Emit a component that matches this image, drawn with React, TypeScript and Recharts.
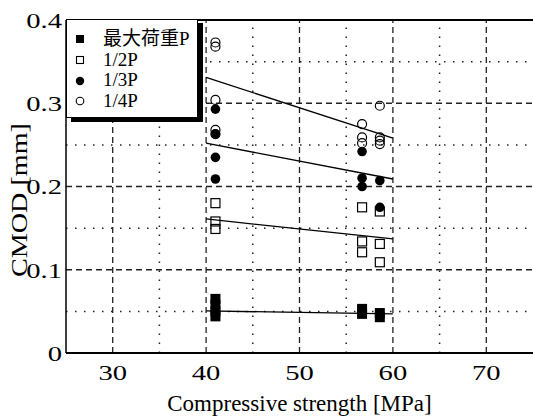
import {
  ComposedChart,
  Scatter,
  XAxis,
  YAxis,
  ReferenceLine,
  Label,
} from "recharts";

const FONT = "'Liberation Serif', 'Times New Roman', 'Noto Sans CJK JP', serif";

const xTicks = [30, 40, 50, 60, 70];
const xMinorGrid = [35, 45, 55, 65];
const yTicks = [0, 0.1, 0.2, 0.3, 0.4];
const yMajorGrid = [0.1, 0.2, 0.3];
const yMinorGrid = [0.05, 0.15, 0.25, 0.35];

const seriesNames = ["最大荷重P", "1/2P", "1/3P", "1/4P"];

// measured points (compressive strength, CMOD)
const maxP = [
  { x: 41, y: 0.065 },
  { x: 41, y: 0.058 },
  { x: 41, y: 0.05 },
  { x: 41, y: 0.044 },
  { x: 56.7, y: 0.053 },
  { x: 56.7, y: 0.047 },
  { x: 58.6, y: 0.048 },
  { x: 58.6, y: 0.043 },
];
const halfP = [
  { x: 41, y: 0.18 },
  { x: 41, y: 0.158 },
  { x: 41, y: 0.149 },
  { x: 56.7, y: 0.175 },
  { x: 56.7, y: 0.134 },
  { x: 56.7, y: 0.121 },
  { x: 58.6, y: 0.17 },
  { x: 58.6, y: 0.131 },
  { x: 58.6, y: 0.109 },
];
const thirdP = [
  { x: 41, y: 0.293 },
  { x: 41, y: 0.263 },
  { x: 41, y: 0.235 },
  { x: 41, y: 0.209 },
  { x: 56.7, y: 0.242 },
  { x: 56.7, y: 0.21 },
  { x: 56.7, y: 0.2 },
  { x: 58.6, y: 0.207 },
  { x: 58.6, y: 0.175 },
];
const quarterP = [
  { x: 41, y: 0.373 },
  { x: 41, y: 0.368 },
  { x: 41, y: 0.304 },
  { x: 41, y: 0.268 },
  { x: 41, y: 0.263 },
  { x: 56.7, y: 0.275 },
  { x: 56.7, y: 0.259 },
  { x: 56.7, y: 0.252 },
  { x: 58.6, y: 0.297 },
  { x: 58.6, y: 0.259 },
  { x: 58.6, y: 0.255 },
  { x: 58.6, y: 0.251 },
];

// regression lines, 40 -> 60 MPa
const fitMax = [
  { x: 40, y: 0.0505 },
  { x: 60, y: 0.047 },
];
const fitHalf = [
  { x: 40, y: 0.161 },
  { x: 60, y: 0.137 },
];
const fitThird = [
  { x: 40, y: 0.252 },
  { x: 60, y: 0.209 },
];
const fitQuarter = [
  { x: 40, y: 0.331 },
  { x: 60, y: 0.258 },
];

const filledSquare = (p: any) => (
  <rect x={p.cx - 5} y={p.cy - 5} width={10} height={10} fill="#000" />
);
const openSquare = (p: any) => (
  <rect x={p.cx - 4.5} y={p.cy - 4.5} width={9} height={9} fill="none" stroke="#000" strokeWidth={1.2} />
);
const filledCircle = (p: any) => <circle cx={p.cx} cy={p.cy} r={4.8} fill="#000" />;
const openCircle = (p: any) => (
  <circle cx={p.cx} cy={p.cy} r={4.5} fill="none" stroke="#000" strokeWidth={1.2} />
);
const noDot = () => <g />;

// tick text looks horizontally stretched in the original
const NumTick = (props: any) => {
  const { x, y, payload, textAnchor, dy } = props;
  const label = String(payload.value);
  const w = label.split("").reduce((s, c) => s + (c === "." ? 0.25 : 0.5), 0) * 22 * 1.3;
  return (
    <text
      x={x}
      y={y}
      dy={dy}
      textAnchor={textAnchor}
      fontSize={22}
      fontFamily={FONT}
      fill="#000"
      textLength={w}
      lengthAdjust="spacingAndGlyphs"
    >
      {label}
    </text>
  );
};

const legendMarks = [
  <rect x={1} y={1} width={8} height={8} fill="#000" />,
  <rect x={1.5} y={1.5} width={7} height={7} fill="none" stroke="#000" strokeWidth={1.1} />,
  <circle cx={5} cy={5} r={4.2} fill="#000" />,
  <circle cx={5} cy={5} r={3.8} fill="none" stroke="#000" strokeWidth={1.1} />,
];

const LegendBox = () => (
  <div
    style={{
      position: "absolute",
      left: 66,
      top: 19,
      width: 132,
      height: 99,
      boxSizing: "border-box",
      background: "#fff",
      border: "1px solid #000",
      boxShadow: "5px 4px 0 #000",
      fontFamily: FONT,
      fontSize: 19,
      lineHeight: "20.7px",
      paddingTop: 9,
      whiteSpace: "nowrap",
    }}
  >
    {seriesNames.map((name, i) => (
      <div key={name} style={{ display: "flex", alignItems: "center", height: 20.7 }}>
        <svg width={10} height={10} style={{ marginLeft: 8, marginRight: 18, flex: "none" }}>
          {legendMarks[i]}
        </svg>
        <span>{name}</span>
      </div>
    ))}
  </div>
);

export default function App() {
  return (
    <div style={{ position: "absolute", left: 0, top: 0, width: 533, height: 416 }}>
      <ComposedChart
        width={533}
        height={416}
        margin={{ top: 20, right: 0, bottom: 0, left: 0 }}
        style={{ fontFamily: FONT }}
      >
        <XAxis
          dataKey="x"
          type="number"
          domain={[25, 75]}
          ticks={xTicks}
          allowDataOverflow
          tickLine={false}
          tickSize={6}
          tickMargin={5}
          axisLine={{ stroke: "#000", strokeWidth: 2 }}
          tick={<NumTick dy="0.71em" />}
          height={63}
        >
          <Label
            content={(p: any) => (
              <text
                x={p.viewBox.x + p.viewBox.width / 2}
                y={411}
                textAnchor="middle"
                fontSize={23}
                fontFamily={FONT}
                fill="#000"
              >
                Compressive strength [MPa]
              </text>
            )}
          />
        </XAxis>
        <YAxis
          dataKey="y"
          type="number"
          domain={[0, 0.4]}
          ticks={yTicks}
          allowDataOverflow
          tickLine={false}
          tickSize={2}
          tickMargin={2}
          axisLine={{ stroke: "#000", strokeWidth: 1.5 }}
          tick={<NumTick dy="0.355em" />}
          width={66}
        >
          <Label
            content={() => (
              <text
                x={27}
                y={200}
                transform="rotate(-90, 27, 200)"
                textAnchor="middle"
                fontSize={24}
                fontFamily={FONT}
                fill="#000"
                textLength={154}
                lengthAdjust="spacingAndGlyphs"
              >
                CMOD [mm]
              </text>
            )}
          />
        </YAxis>

        {xTicks.map((v) => (
          <ReferenceLine key={"xM" + v} x={v} stroke="#222" strokeWidth={1.3} strokeDasharray="6 4" />
        ))}
        {xMinorGrid.map((v) => (
          <ReferenceLine key={"xm" + v} x={v} stroke="#222" strokeWidth={1.5} strokeDasharray="1.5 7.5" />
        ))}
        {yMajorGrid.map((v) => (
          <ReferenceLine key={"yM" + v} y={v} stroke="#222" strokeWidth={1.3} strokeDasharray="6 4" />
        ))}
        {yMinorGrid.map((v) => (
          <ReferenceLine key={"ym" + v} y={v} stroke="#222" strokeWidth={1.5} strokeDasharray="1.5 7.5" />
        ))}
        <ReferenceLine y={0.4} stroke="#000" strokeWidth={2} />

        <Scatter data={fitMax} line={{ stroke: "#000", strokeWidth: 1.3 }} shape={noDot} isAnimationActive={false} legendType="none" />
        <Scatter data={fitHalf} line={{ stroke: "#000", strokeWidth: 1.3 }} shape={noDot} isAnimationActive={false} legendType="none" />
        <Scatter data={fitThird} line={{ stroke: "#000", strokeWidth: 1.3 }} shape={noDot} isAnimationActive={false} legendType="none" />
        <Scatter data={fitQuarter} line={{ stroke: "#000", strokeWidth: 1.3 }} shape={noDot} isAnimationActive={false} legendType="none" />

        <Scatter name={seriesNames[0]} data={maxP} shape={filledSquare} isAnimationActive={false} />
        <Scatter name={seriesNames[1]} data={halfP} shape={openSquare} isAnimationActive={false} />
        <Scatter name={seriesNames[2]} data={thirdP} shape={filledCircle} isAnimationActive={false} />
        <Scatter name={seriesNames[3]} data={quarterP} shape={openCircle} isAnimationActive={false} />
      </ComposedChart>
      <LegendBox />
    </div>
  );
}
